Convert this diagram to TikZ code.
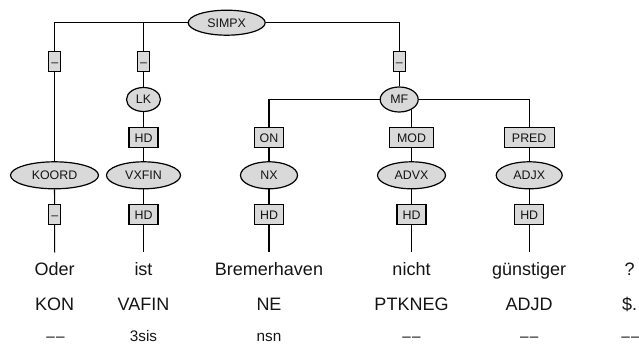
\documentclass[tikz,border=0pt]{standalone}
\usepackage{fontspec}
\setmainfont{Liberation Sans}
\usetikzlibrary{shapes.geometric,backgrounds}
\definecolor{nodefill}{RGB}{217,217,217}
\definecolor{ink}{RGB}{20,20,20}
\newcommand{\nodash}{–\kern1.2pt–}
\begin{document}
\begin{tikzpicture}[x=1pt,y=-1pt,
  edge/.style={draw=black,line width=1.1pt},
  cat/.style={ellipse,draw=black,line width=1.2pt,fill=nodefill,inner sep=0pt,
    font=\fontsize{12.4}{14}\selectfont,text height=8.8pt,text depth=0pt,text=ink},
  lab/.style={rectangle,draw=black,line width=1.2pt,fill=nodefill,inner sep=0pt,
    minimum height=20pt,font=\fontsize{12.4}{14}\selectfont,text height=8.8pt,text depth=0pt,text=ink},
  word/.style={anchor=base,font=\fontsize{18}{20}\selectfont,inner sep=0pt,text=ink},
  morph/.style={anchor=base,font=\fontsize{15.3}{17}\selectfont,inner sep=0pt,text=ink}
]
\useasboundingbox (0,0) rectangle (639,345);

% category nodes
\node[cat,minimum width=77pt,minimum height=25pt] (simpx) at (226.7,22.7) {SIMPX};
\node[cat,minimum width=34pt,minimum height=24pt] (lk) at (143.5,99.5) {LK};
\node[cat,minimum width=38pt,minimum height=25pt] (mf) at (399.2,99.5) {MF};
\node[cat,minimum width=88pt,minimum height=27pt] (koord) at (54.5,175.3) {KOORD};
\node[cat,minimum width=74pt,minimum height=27pt] (vxfin) at (143.5,175.3) {VXFIN};
\node[cat,minimum width=57pt,minimum height=27pt] (nx) at (269,175.3) {NX};
\node[cat,minimum width=68pt,minimum height=27pt] (advx) at (411.5,175.3) {ADVX};
\node[cat,minimum width=66pt,minimum height=27pt] (adjx) at (529.2,175.3) {ADJX};

% edge labels
\node[lab,minimum width=12pt] (e1) at (54.7,61.7) {–};
\node[lab,minimum width=12pt] (e2) at (143.5,61.7) {–};
\node[lab,minimum width=12pt] (e3) at (399.2,61.7) {–};
\node[lab,minimum width=29pt] (hd1) at (143.5,137.8) {HD};
\node[lab,minimum width=29pt] (on) at (269,137.8) {ON};
\node[lab,minimum width=44pt] (mod) at (411.5,137.8) {MOD};
\node[lab,minimum width=50pt] (pred) at (529.2,137.8) {PRED};
\node[lab,minimum width=12pt] (e4) at (54.7,214.7) {–};
\node[lab,minimum width=29pt] (hd2) at (143.5,214.7) {HD};
\node[lab,minimum width=29pt] (hd3) at (269,214.7) {HD};
\node[lab,minimum width=29pt] (hd4) at (411.5,214.7) {HD};
\node[lab,minimum width=29pt] (hd5) at (529.2,214.7) {HD};

% ends of terminal edges
\coordinate (t1) at (54.7,252.3);
\coordinate (t2) at (143.5,252.3);
\coordinate (t3) at (269,252.3);
\coordinate (t4) at (411.5,252.3);
\coordinate (t5) at (529.2,252.3);

% words
\node[word] (w1) at (54.7,275) {Oder};
\node[word] (w2) at (143.5,275) {ist};
\node[word] (w3) at (269,275) {Bremerhaven};
\node[word] (w4) at (411.5,275) {nicht};
\node[word] (w5) at (529.2,275) {günstiger};
\node[word] (w6) at (629.5,275) {?};
\node[word] (p1) at (54.7,310.7) {KON};
\node[word] (p2) at (143.5,310.7) {VAFIN};
\node[word] (p3) at (269,310.7) {NE};
\node[word] (p4) at (411.5,310.7) {PTKNEG};
\node[word] (p5) at (529.2,310.7) {ADJD};
\node[word] (p6) at (629.5,310.7) {\$.};
\node[morph] (m1) at (55.5,341.7) {\nodash};
\node[morph] (m2) at (143.5,341.7) {3sis};
\node[morph] (m3) at (269,341.7) {nsn};
\node[morph] (m4) at (411.5,341.7) {\nodash};
\node[morph] (m5) at (529.2,341.7) {\nodash};
\node[morph] (m6) at (630.5,341.7) {\nodash};

\begin{pgfonlayer}{background}
  \draw[edge] (koord.north) |- (simpx.west);
  \draw[edge] (lk.north) |- (simpx.west);
  \draw[edge] (mf.north) |- (simpx.east);
  \draw[edge] (lk) -- (vxfin);
  \draw[edge] (nx.north) |- (mf.west);
  \draw[edge] (adjx.north) |- (mf.east);
  \draw[edge] (advx.north) |- (mf.center);
  \draw[edge] (koord) -- (t1);
  \draw[edge] (vxfin) -- (t2);
  \draw[edge] (nx) -- (t3);
  \draw[edge] (advx) -- (t4);
  \draw[edge] (adjx) -- (t5);
\end{pgfonlayer}
\end{tikzpicture}
\end{document}
